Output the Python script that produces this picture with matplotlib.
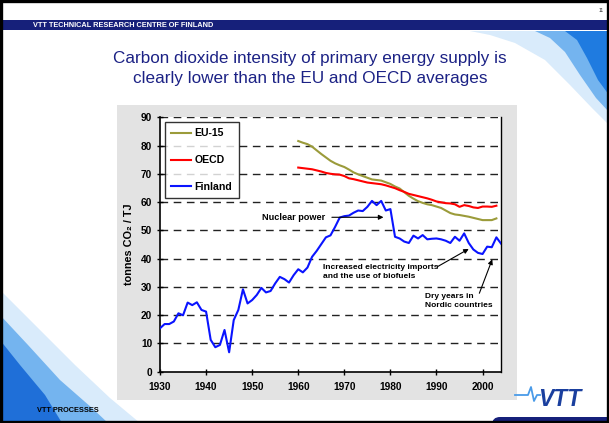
import matplotlib
matplotlib.use("Agg")
import matplotlib.pyplot as plt
from matplotlib.patches import Rectangle, Polygon, FancyBboxPatch
from matplotlib import font_manager

# ---------------- data ----------------
fin_years = list(range(1930, 2005))
fin_values = [15.3, 16.8, 16.8, 17.7, 20.6, 19.9, 24.4, 23.5, 24.5, 21.8,
              21.2, 11.2, 8.6, 9.4, 14.7, 6.8, 18.2, 21.8, 29.1, 24.1,
              25.3, 27.1, 29.6, 28.0, 28.5, 31.2, 33.5, 32.7, 31.5, 34.1,
              36.2, 35.1, 36.8, 40.6, 42.7, 45.1, 47.5, 48.2, 51.2, 54.5,
              55.0, 55.2, 56.2, 57.0, 56.8, 58.3, 60.4, 58.9, 60.4, 57.0,
              57.5, 47.7, 47.1, 46.0, 45.5, 48.1, 47.1, 48.3, 46.8, 47.0,
              47.1, 46.8, 46.3, 45.5, 47.7, 46.3, 48.9, 45.5, 43.2, 42.0,
              41.6, 44.2, 44.0, 47.5, 45.3]

avg_years = list(range(1960, 2004))
eu_values = [81.6, 81.0, 80.5, 79.6, 78.3, 77.0, 75.8, 74.6, 73.7, 73.0,
             72.4, 71.5, 70.5, 69.8, 69.2, 68.6, 68.0, 67.8, 67.6, 67.0,
             66.4, 65.5, 64.8, 63.5, 62.2, 61.2, 60.3, 59.7, 59.2, 58.9,
             58.4, 57.9, 57.0, 56.1, 55.6, 55.4, 55.1, 54.8, 54.4, 54.0,
             53.6, 53.6, 53.6, 54.2]
oecd_values = [72.2, 72.0, 71.8, 71.6, 71.2, 70.8, 70.3, 70.0, 69.8, 69.7,
               69.2, 68.4, 68.1, 67.7, 67.3, 66.9, 66.7, 66.5, 66.3, 65.9,
               65.4, 64.9, 64.2, 63.6, 62.9, 62.5, 62.1, 61.7, 61.3, 60.8,
               60.2, 59.9, 59.6, 59.5, 59.2, 58.3, 58.9, 58.6, 58.1, 57.9,
               58.4, 58.4, 58.3, 58.7]

series_labels = ["EU-15", "OECD", "Finland"]
x_ticks = [1930, 1940, 1950, 1960, 1970, 1980, 1990, 2000]
y_ticks = [0, 10, 20, 30, 40, 50, 60, 70, 80, 90]

title_lines = ["Carbon dioxide intensity of primary energy supply is",
               "clearly lower than the EU and OECD averages"]
ylabel = "tonnes CO\u2082 / TJ"

# ---------------- fonts ----------------
names = {f.name for f in font_manager.fontManager.ttflist}
SANS = ["Liberation Sans", "DejaVu Sans"]
if "Liberation Sans Narrow" in names:
    NARROW = ["Liberation Sans Narrow", "Liberation Sans", "DejaVu Sans"]
    narrow_size = 7.0
else:
    NARROW = SANS
    narrow_size = 6.0
plt.rcParams["font.family"] = SANS

W, H = 609, 423
fig = plt.figure(figsize=(W / 100, H / 100), dpi=100)
fig.patch.set_facecolor("white")

# ---------------- slide decorations (pixel coordinates) ----------------
bg = fig.add_axes([0, 0, 1, 1], zorder=0)
bg.set_xlim(0, W)
bg.set_ylim(H, 0)
bg.axis("off")

# top-right swoosh
bg.add_patch(Polygon([(470, 31), (609, 31), (609, 125), (592, 108), (570, 85),
                      (545, 60), (515, 43), (490, 35)], closed=True,
                     facecolor="#d9ebfb", edgecolor="none"))
bg.add_patch(Polygon([(535, 31), (609, 31), (609, 112), (596, 98), (580, 75),
                      (565, 52), (550, 38)], closed=True,
                     facecolor="#74b4ef", edgecolor="none"))
bg.add_patch(Polygon([(565, 31), (609, 31), (609, 95), (598, 80), (587, 58),
                      (577, 40)], closed=True,
                     facecolor="#1f7be0", edgecolor="none"))

# bottom-left swoosh
bg.add_patch(Polygon([(0, 290), (35, 325), (75, 365), (110, 398), (140, 423),
                      (0, 423)], closed=True, facecolor="#d9ebfb", edgecolor="none"))
bg.add_patch(Polygon([(0, 315), (28, 345), (60, 380), (92, 408), (108, 423),
                      (0, 423)], closed=True, facecolor="#74b4ef", edgecolor="none"))
bg.add_patch(Polygon([(0, 340), (20, 365), (45, 395), (62, 423), (0, 423)],
                     closed=True, facecolor="#1f6fd8", edgecolor="none"))

# header bar
bg.add_patch(Rectangle((3, 20), W - 3, 10, facecolor="#16207a", edgecolor="none"))
bg.text(33, 25.3, "VTT TECHNICAL RESEARCH CENTRE OF FINLAND", color="white",
        fontsize=5.3, fontweight="bold", va="center", ha="left")
bg.text(604, 11, "11", fontsize=3.5, ha="right", va="center", color="#333333")

# title
bg.text(310, 58, title_lines[0], fontsize=12.3, color="#1c2285",
        ha="center", va="center")
bg.text(310, 78, title_lines[1], fontsize=12.3, color="#1c2285",
        ha="center", va="center")

# grey chart panel
bg.add_patch(Rectangle((117, 105), 400, 295, facecolor="#e3e3e3", edgecolor="none"))

# footer
bg.text(37, 410, "VTT PROCESSES", fontsize=5.3, fontweight="bold",
        color="black", va="center", ha="left")
bg.plot([515, 528, 531, 534, 537, 540], [395, 395, 387, 401, 395, 395],
        color="#4a9be8", lw=1.3)
bg.text(560, 400, "VTT", fontsize=16.5, fontweight="bold", fontstyle="italic",
        color="#1a3f9e", ha="center", va="center")
bg.add_patch(FancyBboxPatch((492, 417), 140, 20,
                            boxstyle="round,pad=0,rounding_size=8",
                            facecolor="#16207a", edgecolor="none"))

# slide border
bg.add_patch(Rectangle((1.2, 1.2), W - 2.4, H - 2.4, facecolor="none",
                       edgecolor="black", lw=2.4))

# ---------------- chart ----------------
left, right, top, bottom = 160, 501, 117.3, 371.5
ax = fig.add_axes([left / W, (H - bottom) / H, (right - left) / W, (bottom - top) / H],
                  zorder=2)
ax.set_facecolor("white")
ax.set_xlim(1930, 2004)
ax.set_ylim(0, 90)

for yv in y_ticks[1:]:
    ax.axhline(yv, color="#222222", lw=1.0, ls=(0, (5.5, 4)), zorder=1)

ax.plot(avg_years, eu_values, color="#9b9b3a", lw=1.5, label=series_labels[0], zorder=3)
ax.plot(avg_years, oecd_values, color="#ff0000", lw=1.5, label=series_labels[1], zorder=3)
ax.plot(fin_years, fin_values, color="#0a14ff", lw=1.5, label=series_labels[2], zorder=4)

ax.spines["top"].set_visible(False)
for s in ["left", "bottom", "right"]:
    ax.spines[s].set_color("black")
    ax.spines[s].set_linewidth(1.2)
ax.spines["right"].set_linewidth(1.0)

ax.set_xticks(x_ticks)
ax.set_yticks(y_ticks)
ax.tick_params(axis="both", direction="inout", length=5, width=1.0,
               labelsize=7.3, pad=3)
ax.tick_params(axis="x", pad=5)
for lab in ax.get_xticklabels() + ax.get_yticklabels():
    lab.set_fontweight("bold")

ax.set_ylabel(ylabel, fontsize=7.8, fontweight="bold", labelpad=5)

leg = ax.legend(loc="upper left", bbox_to_anchor=(0.0147, 0.9815),
                frameon=True, fancybox=False, edgecolor="black",
                prop={"weight": "bold", "size": 7.6, "family": SANS},
                handlelength=1.9, handletextpad=0.3, labelspacing=1.6,
                borderpad=0.6, borderaxespad=0.0)
leg.get_frame().set_linewidth(1.0)
leg.set_zorder(5)

arrow = dict(arrowstyle="-|>", color="black", lw=0.8, mutation_scale=7,
             shrinkA=0, shrinkB=0)
ax.annotate("", xy=(1978.5, 54.6), xytext=(1967.3, 54.6), arrowprops=arrow, zorder=6)
ax.text(1965.9, 54.5, "Nuclear power", fontsize=6.6, fontweight="bold",
        ha="right", va="center", zorder=6)

ax.annotate("", xy=(1997.0, 43.4), xytext=(1990.2, 37.1), arrowprops=arrow, zorder=6)
ax.text(1965.3, 35.2, "Increased electricity imports\nand the use of biofuels",
        fontsize=narrow_size, fontweight="bold", family=NARROW,
        ha="left", va="center", linespacing=1.3, zorder=6)

ax.annotate("", xy=(2002.1, 39.7), xytext=(1999.3, 27.7), arrowprops=arrow, zorder=6)
ax.text(1987.6, 25.0, "Dry years in\nNordic countries",
        fontsize=narrow_size, fontweight="bold", family=NARROW,
        ha="left", va="center", linespacing=1.45, zorder=6)

fig.savefig("out.png", dpi=100)
